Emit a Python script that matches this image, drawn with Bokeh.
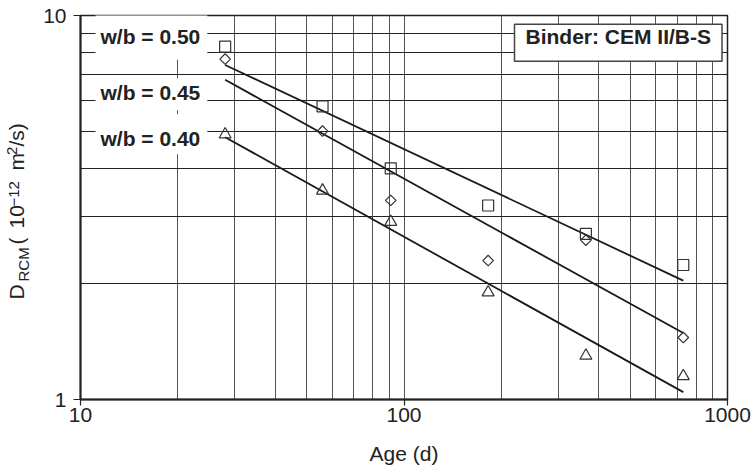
import math
from bokeh.plotting import figure
from bokeh.layouts import row
from bokeh.models import FixedTicker, Label, CustomJSTickFormatter
from bokeh.embed import file_html
from bokeh.resources import INLINE

# ---- data ----
ages = [28, 56, 91, 182, 365, 730]
d_wb050 = [8.3, 5.8, 4.0, 3.2, 2.7, 2.24]
d_wb045 = [7.7, 5.0, 3.3, 2.3, 2.6, 1.45]
d_wb040 = [4.9, 3.5, 2.9, 1.9, 1.3, 1.15]

fit_ages = [28, 730]
fit_wb050 = [7.43, 2.04]
fit_wb045 = [6.80, 1.49]
fit_wb040 = [4.82, 1.045]

x_ticks = [10, 100, 1000]
x_minor = [20, 30, 40, 50, 60, 70, 80, 90, 200, 300, 400, 500, 600, 700, 800, 900]
y_ticks = [1, 10]
y_minor = [2, 3, 4, 5, 6, 7, 8, 9]

series_labels = ["w/b = 0.50", "w/b = 0.45", "w/b = 0.40"]
binder_text = "Binder: CEM II/B-S"
x_title = "Age (d)"
y_title_parts = ["D", "RCM", "(", "10", "\u221212", "m", "2", "/s)"]

FONT = "Liberation Sans"
TXT = "#222222"
W, H = 753, 469
TITLE_W = 40
B_TOP, B_BOTTOM = 15, 70
FRAME_BOTTOM = H - B_BOTTOM

p = figure(width=W - TITLE_W, height=H, x_axis_type="log", y_axis_type="log",
           x_range=(10, 1000), y_range=(1, 10),
           output_backend="svg", toolbar_location=None,
           min_border_left=80 - TITLE_W, min_border_right=26,
           min_border_top=B_TOP, min_border_bottom=B_BOTTOM)
p.background_fill_color = "white"
p.border_fill_color = "white"
p.outline_line_color = "#222222"
p.outline_line_width = 1.5

p.xaxis.ticker = FixedTicker(ticks=x_ticks, minor_ticks=x_minor)
p.yaxis.ticker = FixedTicker(ticks=y_ticks, minor_ticks=y_minor)
fmt = CustomJSTickFormatter(code="return String(Math.round(tick));")
p.xaxis.formatter = fmt
p.yaxis.formatter = fmt

for ax in (p.xaxis[0], p.yaxis[0]):
    ax.axis_line_color = "#222222"
    ax.axis_line_width = 2
    ax.major_tick_line_color = "#222222"
    ax.major_tick_line_width = 1.2
    ax.major_tick_in = 0
    ax.minor_tick_line_color = None
    ax.major_label_text_font = FONT
    ax.major_label_text_font_size = "21px"
    ax.major_label_text_color = TXT
p.xaxis.major_tick_out = 6
p.xaxis.major_label_standoff = 2
p.yaxis.major_tick_out = 7
p.yaxis.major_label_standoff = 7

p.xaxis.axis_label = x_title
p.xaxis.axis_label_text_font = FONT
p.xaxis.axis_label_text_font_size = "21px"
p.xaxis.axis_label_text_font_style = "normal"
p.xaxis.axis_label_text_color = TXT
p.xaxis.axis_label_standoff = 17

p.xgrid.grid_line_color = "#555555"
p.xgrid.minor_grid_line_color = "#555555"
p.ygrid.grid_line_color = "#222222"
p.ygrid.minor_grid_line_color = "#222222"
for g in (p.xgrid[0], p.ygrid[0]):
    g.grid_line_width = 1
    g.minor_grid_line_width = 1
    g.grid_line_alpha = 1
    g.minor_grid_line_alpha = 1

# fitted lines
for fy in (fit_wb050, fit_wb045, fit_wb040):
    p.line(fit_ages, fy, line_color="#1a1a1a", line_width=1.8)

# data points
MC = "#333333"
p.scatter(ages, d_wb050, marker="square", size=11, fill_color=None, line_color=MC, line_width=1.2)
p.scatter(ages, d_wb045, marker="square", size=7.5, angle=math.pi / 4, fill_color=None,
          line_color=MC, line_width=1.2)
p.scatter(ages, d_wb040, marker="triangle", size=12, fill_color=None, line_color=MC, line_width=1.2)

# series labels with white background boxes (screen units relative to frame)
lab_pos = [(15, 362.3), (15, 305.3), (15, 265.3)]
lab_pad = [dict(left=5, right=7, top=10, bottom=12),
           dict(left=5, right=7, top=3, bottom=6),
           dict(left=5, right=7, top=13, bottom=4)]
for txt, (lx, ly), pad in zip(series_labels, lab_pos, lab_pad):
    p.add_layout(Label(x=lx, y=ly, x_units="screen", y_units="screen", text=txt,
                       text_font=FONT, text_font_size="21px", text_font_style="bold",
                       text_color=TXT, text_align="left", text_baseline="alphabetic",
                       background_fill_color="white", padding=pad))

p.add_layout(Label(x=434, y=356.7, x_units="screen", y_units="screen", text=binder_text,
                   text_font=FONT, text_font_size="21px", text_font_style="bold",
                   text_color=TXT, text_align="left", text_baseline="alphabetic",
                   background_fill_color="white", border_line_color="#444444",
                   border_line_width=1.5,
                   padding=dict(left=11, right=11, top=1, bottom=13)))

# y axis title: D_RCM (10^-12 m^2/s), drawn as rotated pieces in a narrow side figure
t = figure(width=TITLE_W, height=H, x_range=(0, 1), y_range=(0, 1),
           x_axis_location=None, y_axis_location=None,
           output_backend="svg", toolbar_location=None,
           min_border_left=0, min_border_right=0,
           min_border_top=B_TOP, min_border_bottom=B_BOTTOM)
t.grid.visible = False
t.outline_line_color = None
t.background_fill_color = "white"
t.border_fill_color = "white"

# (anchor x, start y from top of picture) for each piece, in pixels
piece_sizes = ["21px", "15px", "21px", "21px", "15px", "21px", "15px", "21px"]
piece_pos = [(16, 299), (23, 281), (16, 244), (16, 228), (13, 206), (16, 170), (11, 154.5), (16, 146)]
for txt, fs, (bx, sy) in zip(y_title_parts, piece_sizes, piece_pos):
    t.add_layout(Label(x=bx, y=FRAME_BOTTOM - sy, x_units="screen", y_units="screen", text=txt,
                       angle=math.pi / 2, text_font=FONT, text_font_size=fs,
                       text_color=TXT, text_align="left", text_baseline="alphabetic"))

layout = row(t, p, spacing=0)
open("out.html", "w").write(file_html(layout, INLINE))
